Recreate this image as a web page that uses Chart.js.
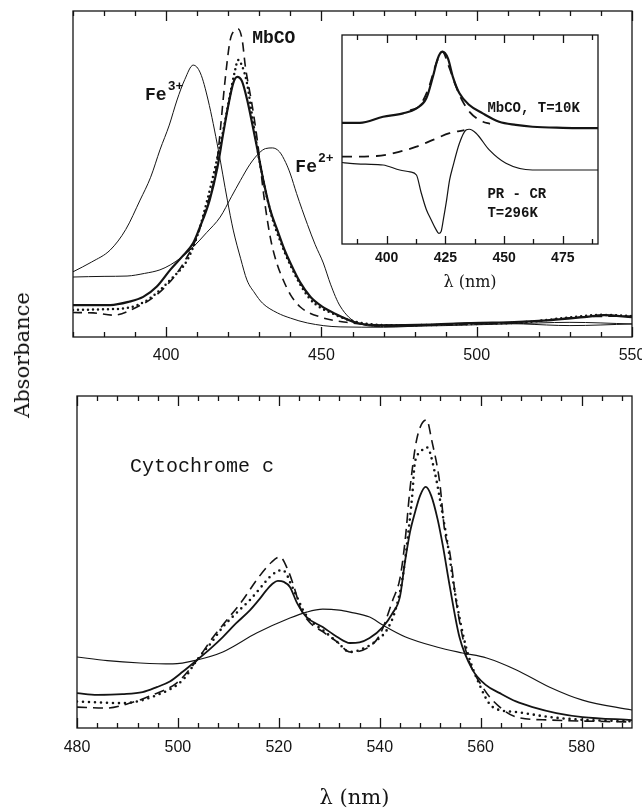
<!DOCTYPE html>
<html>
<head>
<meta charset="utf-8">
<script src="https://cdn.jsdelivr.net/npm/chart.js@4.4.1/dist/chart.umd.min.js"></script>
<style>
  html, body { margin: 0; padding: 0; background: #fff; }
  body { width: 642px; height: 809px; position: relative; overflow: hidden; }
  canvas { position: absolute; }
  #ylabel {
    position: absolute; left: 22px; top: 355px;
    transform: translate(-50%, -50%) rotate(-90deg);
    font: 21px "DejaVu Serif", serif; color: #111; white-space: nowrap;
  }
</style>
</head>
<body>
<canvas id="topChart" width="642" height="370" style="left:0;top:0"></canvas>
<canvas id="insetChart" width="290" height="275" style="left:330px;top:25px"></canvas>
<canvas id="bottomChart" width="642" height="429" style="left:0;top:380px"></canvas>
<div id="ylabel">Absorbance</div>

<script>
// ---- top panel: Soret band (nm, arbitrary absorbance) ----
const topTicks = [400, 450, 500, 550];
const topMinor = [370, 380, 390, 410, 420, 430, 440, 460, 470, 480, 490, 510, 520, 530, 540];

const fe3Nm  = [370, 376, 382, 387, 391.6, 395, 398, 401, 403.5, 406, 408.7, 411, 413.5, 416.8, 419.7, 421.6, 424, 426, 428.5, 431, 435.8, 440, 445.5, 456, 470, 485, 500, 515, 530, 550];
const fe3Abs = [0.20, 0.23, 0.267, 0.33, 0.42, 0.49, 0.574, 0.65, 0.727, 0.79, 0.834, 0.81, 0.727, 0.574, 0.42, 0.328, 0.24, 0.175, 0.135, 0.104, 0.074, 0.058, 0.043, 0.031, 0.03, 0.036, 0.045, 0.04, 0.035, 0.04];

const fe2Nm  = [370, 380, 387.4, 393, 398, 401.3, 405, 408.7, 413, 417.4, 421, 423.9, 427, 430, 432, 434.2, 436.5, 438.5, 440, 442, 445.5, 448, 450.6, 453, 456, 461.6, 470, 490, 510, 530, 550];
const fe2Abs = [0.184, 0.186, 0.187, 0.195, 0.206, 0.221, 0.245, 0.276, 0.32, 0.368, 0.43, 0.48, 0.53, 0.565, 0.578, 0.58, 0.568, 0.535, 0.50, 0.44, 0.345, 0.283, 0.227, 0.16, 0.095, 0.043, 0.032, 0.035, 0.04, 0.045, 0.04];

const mbNm  = [370, 382, 388, 392.6, 397, 401.3, 405, 408.7, 411, 414, 416.5, 418.4, 420, 421.6, 422.9, 424.4, 426.1, 427.8, 429.4, 431.3, 433.5, 435.8, 438, 440, 443, 446.5, 450, 453.9, 461.6, 470, 485, 500, 512, 524, 534.5, 541, 550];
const mbAbs = [0.098, 0.098, 0.108, 0.123, 0.155, 0.206, 0.245, 0.288, 0.34, 0.42, 0.52, 0.626, 0.71, 0.779, 0.798, 0.785, 0.727, 0.65, 0.574, 0.48, 0.39, 0.328, 0.27, 0.227, 0.17, 0.123, 0.095, 0.074, 0.043, 0.036, 0.038, 0.043, 0.046, 0.052, 0.061, 0.067, 0.061];

const mbDotNm  = [370, 380, 387.4, 393.9, 401.3, 406.8, 410, 413.5, 416, 418.5, 420.5, 422, 423.2, 424.5, 426, 427.5, 429.5, 431.5, 434, 436.5, 440, 446, 454, 462, 475, 500, 515, 528, 540, 550];
const mbDotAbs = [0.083, 0.085, 0.089, 0.113, 0.175, 0.236, 0.31, 0.43, 0.53, 0.64, 0.74, 0.81, 0.85, 0.83, 0.78, 0.69, 0.57, 0.47, 0.37, 0.30, 0.22, 0.12, 0.07, 0.045, 0.036, 0.04, 0.045, 0.058, 0.068, 0.064];

const mbDashNm  = [370, 376.5, 383, 390.6, 397, 403, 407, 410, 413, 415.8, 416.8, 419, 420.6, 422, 423.2, 424.5, 425.5, 427.7, 429.4, 431.5, 433.5, 435.5, 437.7, 440, 443.2, 449.7, 458, 470, 500, 520, 535, 550];
const mbDashAbs = [0.075, 0.074, 0.067, 0.092, 0.13, 0.19, 0.25, 0.31, 0.40, 0.50, 0.574, 0.79, 0.91, 0.94, 0.945, 0.91, 0.83, 0.71, 0.60, 0.43, 0.307, 0.23, 0.175, 0.13, 0.092, 0.061, 0.045, 0.036, 0.04, 0.05, 0.062, 0.064];

// ---- inset ----
const insetTicks = [400, 425, 450, 475];
const insetMinor = [387.5, 412.5, 437.5, 462.5, 487.5];

const lowTNm  = [381, 388.6, 398.5, 407, 412.7, 416.9, 419.7, 421.8, 423.7, 426.1, 428.2, 431, 435.2, 440.9, 447.9, 455, 462.1, 475, 490];
const lowTVal = [0.58, 0.58, 0.609, 0.625, 0.649, 0.697, 0.80, 0.888, 0.92, 0.888, 0.80, 0.721, 0.665, 0.625, 0.585, 0.57, 0.561, 0.556, 0.554];

const lowTFitNm  = [410, 414, 418, 421, 423.7, 426.5, 429.5, 432.5, 435.5, 438.5, 441, 444];
const lowTFitVal = [0.64, 0.66, 0.75, 0.86, 0.92, 0.85, 0.755, 0.68, 0.63, 0.60, 0.585, 0.575];

const prcrNm  = [381, 384.4, 391, 398.5, 405.6, 410, 412.7, 414.6, 416.9, 419, 421, 422.2, 423.2, 424.2, 425.4, 426.8, 428.2, 431, 433.8, 435.2, 438.1, 443.7, 450.8, 462.1, 475, 490];
const prcrVal = [0.39, 0.386, 0.382, 0.378, 0.354, 0.345, 0.33, 0.25, 0.165, 0.115, 0.07, 0.051, 0.06, 0.12, 0.20, 0.306, 0.37, 0.482, 0.545, 0.549, 0.53, 0.45, 0.386, 0.354, 0.354, 0.354];

const prcrFitNm  = [381, 384.4, 395.7, 405.6, 412.7, 419.7, 426.8, 433.1];
const prcrFitVal = [0.418, 0.418, 0.421, 0.442, 0.466, 0.498, 0.53, 0.545];

// ---- bottom panel: cytochrome c ----
const botTicks = [480, 500, 520, 540, 560, 580];
const botMinor = [484, 488, 492, 496, 504, 508, 512, 516, 524, 528, 532, 536, 544, 548, 552, 556, 564, 568, 572, 576, 584, 588];

const oxNm  = [480, 486, 492.5, 499, 503.8, 508.9, 515.6, 522.2, 525.5, 528.7, 532, 534.1, 538, 540.6, 545, 551.3, 556.4, 561.2, 567.1, 573.7, 580.2, 590];
const oxAbs = [0.214, 0.203, 0.196, 0.193, 0.205, 0.229, 0.286, 0.331, 0.349, 0.358, 0.355, 0.349, 0.334, 0.31, 0.275, 0.244, 0.226, 0.211, 0.175, 0.123, 0.084, 0.054];

const redNm  = [480, 484, 489, 493, 495.8, 498.4, 501, 503.8, 506.5, 508.9, 511.5, 514.3, 516, 517.6, 518.8, 519.8, 521, 522.2, 523.6, 525.5, 528.7, 531.5, 534.1, 536, 538, 540.6, 542.5, 544, 545, 546, 547, 548, 549.1, 550.2, 551.5, 552.5, 553.9, 555.8, 558.4, 561, 563.8, 567, 570.3, 575, 580.2, 590];
const redAbs = [0.105, 0.10, 0.102, 0.108, 0.123, 0.14, 0.17, 0.205, 0.24, 0.274, 0.315, 0.355, 0.385, 0.416, 0.435, 0.443, 0.44, 0.425, 0.377, 0.334, 0.304, 0.275, 0.256, 0.258, 0.271, 0.304, 0.345, 0.395, 0.50, 0.59, 0.65, 0.70, 0.726, 0.70, 0.627, 0.55, 0.425, 0.274, 0.175, 0.13, 0.105, 0.08, 0.063, 0.045, 0.033, 0.024];

const redDotNm  = [480, 482.6, 489.1, 495.8, 501, 503.8, 506.5, 508.9, 511.5, 514.3, 516.5, 518.2, 519.5, 520.6, 521.5, 522.2, 523.6, 524.8, 526.5, 528.7, 531.5, 534.1, 537.4, 539.5, 541.4, 543, 544.5, 545.9, 546.5, 546.9, 548, 549.4, 550.9, 552.3, 553.5, 555, 557, 559.5, 562.4, 567.1, 573.7, 580, 590];
const redDotAbs = [0.08, 0.078, 0.075, 0.099, 0.145, 0.205, 0.255, 0.304, 0.345, 0.386, 0.425, 0.455, 0.47, 0.476, 0.465, 0.44, 0.395, 0.355, 0.32, 0.295, 0.26, 0.229, 0.244, 0.265, 0.295, 0.35, 0.45, 0.62, 0.711, 0.792, 0.83, 0.845, 0.771, 0.657, 0.55, 0.40, 0.25, 0.14, 0.063, 0.048, 0.033, 0.025, 0.02];

const redDashNm  = [480, 485.9, 490.5, 495, 499.8, 503.8, 507, 509.7, 512.9, 515.6, 518.6, 520.2, 521.8, 523.2, 524.2, 526, 528.7, 531.5, 534.1, 537.4, 540, 542.6, 544, 545, 546, 547.3, 549.3, 550.3, 551.9, 552.9, 553.9, 555.2, 557.2, 560.4, 563.8, 567.1, 573.7, 590];
const redDashAbs = [0.063, 0.06, 0.075, 0.10, 0.136, 0.205, 0.274, 0.325, 0.386, 0.446, 0.50, 0.515, 0.476, 0.416, 0.364, 0.32, 0.29, 0.26, 0.229, 0.24, 0.28, 0.386, 0.45, 0.56, 0.72, 0.867, 0.928, 0.867, 0.738, 0.59, 0.527, 0.376, 0.226, 0.123, 0.063, 0.033, 0.024, 0.018];

const ink = '#141414';
const pts = (xs, ys) => xs.map((x, i) => ({ x, y: ys[i] }));

function line(xs, ys, style) {
  const ds = { data: pts(xs, ys), borderColor: ink, borderWidth: 1, pointRadius: 0,
               cubicInterpolationMode: 'monotone', fill: false };
  if (style === 'thick') ds.borderWidth = 2.2;
  if (style === 'dash') { ds.borderWidth = 1.6; ds.borderDash = [9, 6]; }
  if (style === 'dot') { ds.borderWidth = 2.5; ds.borderDash = [0, 5]; ds.borderCapStyle = 'round'; }
  return ds;
}

// frame, inward ticks on top and bottom edges, and text notes in data coordinates
const frameTicks = {
  id: 'frameTicks',
  afterDatasetsDraw(chart, args, opts) {
    const { ctx, chartArea: a, scales: { x, y } } = chart;
    ctx.save();
    ctx.strokeStyle = ink;
    ctx.lineWidth = 1.3;
    ctx.strokeRect(a.left, a.top, a.right - a.left, a.bottom - a.top);
    const mark = (v, len) => {
      const px = Math.round(x.getPixelForValue(v)) + 0.5;
      ctx.beginPath();
      ctx.moveTo(px, a.bottom); ctx.lineTo(px, a.bottom - len);
      ctx.moveTo(px, a.top); ctx.lineTo(px, a.top + len);
      ctx.stroke();
    };
    opts.major.forEach(v => mark(v, opts.majorLen));
    opts.minor.forEach(v => mark(v, opts.minorLen));

    ctx.fillStyle = ink;
    ctx.textBaseline = 'alphabetic';
    ctx.textAlign = 'left';
    (opts.notes || []).forEach(n => {
      const px = x.getPixelForValue(n.x), py = y.getPixelForValue(n.y);
      ctx.font = n.font;
      ctx.fillText(n.text, px, py);
      if (n.sup) {
        const w = ctx.measureText(n.text).width;
        ctx.font = n.supFont;
        ctx.fillText(n.sup, px + w + 1, py - 10);
      }
    });
    ctx.restore();
  }
};

function options(cfg) {
  return {
    responsive: false,
    animation: false,
    events: [],
    layout: { padding: cfg.padding },
    plugins: {
      legend: { display: false },
      tooltip: { enabled: false },
      frameTicks: { major: cfg.ticks, minor: cfg.minor, majorLen: cfg.majorLen, minorLen: cfg.minorLen, notes: cfg.notes }
    },
    scales: {
      x: {
        type: 'linear', min: cfg.xMin, max: cfg.xMax,
        grid: { display: false, drawTicks: false },
        border: { display: false },
        afterBuildTicks: s => { s.ticks = cfg.ticks.map(v => ({ value: v })); },
        afterFit: s => { s.height = cfg.axisHeight; s.paddingLeft = 0; s.paddingRight = 0; },
        ticks: { padding: cfg.tickPad, color: ink, font: cfg.tickFont, maxRotation: 0, autoSkip: false },
        title: cfg.title ? { display: true, text: 'λ (nm)', color: ink,
          font: { family: '"DejaVu Serif", serif', size: cfg.titleSize, lineHeight: 1 },
          padding: { top: 0, bottom: cfg.titlePad } } : { display: false }
      },
      y: { display: false, min: 0, max: 1 }
    }
  };
}

const noteFont = 'bold 18px "Liberation Mono", monospace';
const supFont = 'bold 13px "Liberation Mono", monospace';

new Chart(document.getElementById('topChart'), {
  type: 'line',
  data: { datasets: [
    line(mbNm, mbAbs, 'thick'),
    line(mbDotNm, mbDotAbs, 'dot'),
    line(mbDashNm, mbDashAbs, 'dash'),
    line(fe3Nm, fe3Abs, 'thin'),
    line(fe2Nm, fe2Abs, 'thin')
  ] },
  options: options({
    padding: { left: 73, right: 10, top: 11, bottom: 0 },
    xMin: 370, xMax: 550, ticks: topTicks, minor: topMinor, majorLen: 10, minorLen: 5,
    axisHeight: 33, tickPad: 9,
    tickFont: { family: '"Liberation Sans", Arial, sans-serif', size: 16 },
    notes: [
      { text: 'Fe', sup: '3+', x: 393.2, y: 0.727, font: noteFont, supFont },
      { text: 'MbCO', x: 427.7, y: 0.902, font: noteFont },
      { text: 'Fe', sup: '2+', x: 441.6, y: 0.506, font: noteFont, supFont }
    ]
  }),
  plugins: [frameTicks]
});

const insetFont = 'bold 14px "Liberation Mono", monospace';
new Chart(document.getElementById('insetChart'), {
  type: 'line',
  data: { datasets: [
    line(lowTNm, lowTVal, 'thick'),
    Object.assign(line(lowTFitNm, lowTFitVal, 'dash'), { borderWidth: 1.8, borderDash: [10, 7] }),
    Object.assign(line(prcrNm, prcrVal, 'thin'), { borderWidth: 1.2 }),
    Object.assign(line(prcrFitNm, prcrFitVal, 'dash'), { borderWidth: 1.8, borderDash: [10, 7] })
  ] },
  options: options({
    padding: { left: 12, right: 22, top: 10, bottom: 0 },
    xMin: 381, xMax: 490, ticks: insetTicks, minor: insetMinor, majorLen: 8, minorLen: 5,
    axisHeight: 56, tickPad: 6,
    tickFont: { family: '"Liberation Sans", Arial, sans-serif', size: 14, weight: 'bold' },
    title: true, titleSize: 16, titlePad: 9,
    notes: [
      { text: 'MbCO, T=10K', x: 442.9, y: 0.632, font: insetFont },
      { text: 'PR - CR', x: 442.9, y: 0.22, font: insetFont },
      { text: 'T=296K', x: 442.9, y: 0.129, font: insetFont }
    ]
  }),
  plugins: [frameTicks]
});

new Chart(document.getElementById('bottomChart'), {
  type: 'line',
  data: { datasets: [
    Object.assign(line(redNm, redAbs, 'thick'), { borderWidth: 1.8 }),
    Object.assign(line(redDotNm, redDotAbs, 'dot'), { borderDash: [0, 6], borderWidth: 2.6 }),
    Object.assign(line(redDashNm, redDashAbs, 'dash'), { borderDash: [10, 6] }),
    Object.assign(line(oxNm, oxAbs, 'thin'), { borderWidth: 1.1 })
  ] },
  options: options({
    padding: { left: 77, right: 10, top: 16, bottom: 0 },
    xMin: 480, xMax: 590, ticks: botTicks, minor: botMinor, majorLen: 10, minorLen: 5,
    axisHeight: 81, tickPad: 10,
    tickFont: { family: '"Liberation Sans", Arial, sans-serif', size: 16 },
    title: true, titleSize: 21, titlePad: 0,
    notes: [
      { text: 'Cytochrome c', x: 490.5, y: 0.771, font: '20px "Liberation Mono", monospace' }
    ]
  }),
  plugins: [frameTicks]
});
</script>
</body>
</html>
